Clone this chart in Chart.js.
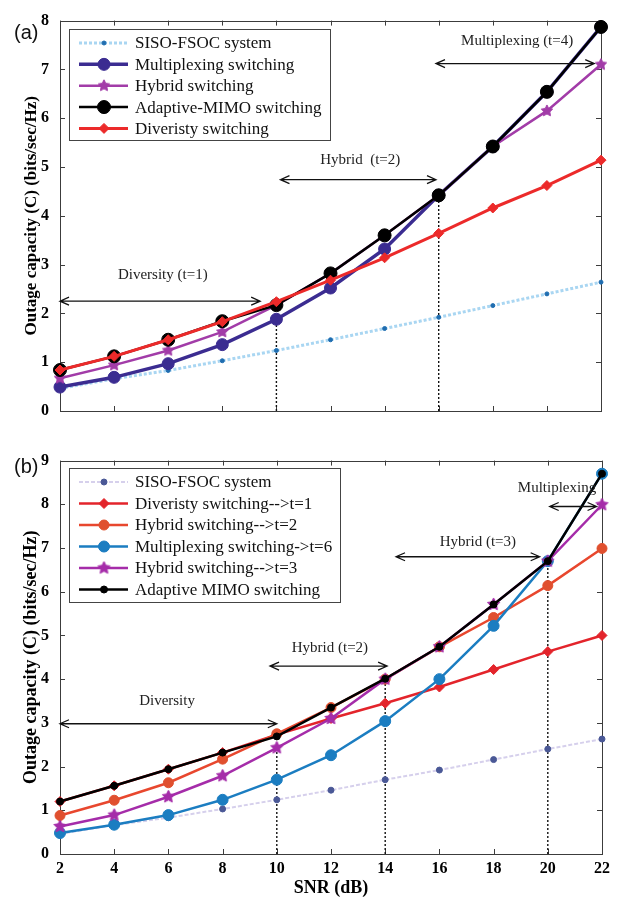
<!DOCTYPE html>
<html lang="en">
<head>
    <script src="https://cdn.jsdelivr.net/npm/chart.js/dist/chart.umd.min.js"></script>
    <style>
        body { margin: 0; background: #fff; }
        #wrap { position: relative; width: 626px; height: 903px; }
        .tag { position: absolute; left: 14px; font: 20px "Liberation Sans", sans-serif; color: #111; }
    </style>
</head>
<body>
<div id="wrap">
    <canvas id="chartA" width="626" height="440" style="position:absolute;left:0;top:0"></canvas>
    <canvas id="chartB" width="626" height="463" style="position:absolute;left:0;top:440px"></canvas>
    <div class="tag" style="top:21px">(a)</div>
    <div class="tag" style="top:455px">(b)</div>
</div>

<script>
    // SNR (dB), shared by both panels
    const snr = [2, 4, 6, 8, 10, 12, 14, 16, 18, 20, 22];

    // panel (a)
    const sisoA = [0.46, 0.66, 0.83, 1.03, 1.24, 1.46, 1.69, 1.92, 2.16, 2.40, 2.64];
    const muxA = [0.49, 0.69, 0.97, 1.36, 1.88, 2.52, 3.32, 4.42, 5.42, 6.54, 7.87];
    const hybridA = [0.67, 0.94, 1.24, 1.62, 2.17, 2.82, 3.60, 4.42, 5.42, 6.15, 7.10];
    const adaptiveA = [0.84, 1.12, 1.46, 1.84, 2.17, 2.82, 3.60, 4.42, 5.42, 6.54, 7.87];
    const diversityA = [0.84, 1.12, 1.46, 1.83, 2.24, 2.68, 3.14, 3.64, 4.16, 4.62, 5.14];

    // panel (b)
    const sisoB = [0.46, 0.66, 0.83, 1.03, 1.24, 1.46, 1.70, 1.92, 2.16, 2.40, 2.63];
    const div1B = [1.20, 1.56, 1.94, 2.32, 2.73, 3.10, 3.45, 3.82, 4.22, 4.63, 5.00];
    const hyb2B = [0.88, 1.23, 1.63, 2.17, 2.75, 3.35, 4.00, 4.74, 5.41, 6.14, 6.99];
    const mux6B = [0.48, 0.67, 0.89, 1.24, 1.70, 2.26, 3.04, 4.00, 5.22, 6.70, 8.70];
    const hyb3B = [0.63, 0.89, 1.31, 1.79, 2.43, 3.10, 4.00, 4.74, 5.71, 6.70, 7.99];
    const adaptiveB = [1.20, 1.56, 1.94, 2.32, 2.69, 3.35, 4.01, 4.74, 5.71, 6.70, 8.70];

    // annotations, in data units: arrows [xFrom, xTo, y], texts [text, x, y], dotted drops [x, yTop]
    const arrowsA = [[2, 9.4, 2.25], [10.15, 15.9, 4.74], [15.9, 21.75, 7.12]];
    const notesA = [['Diversity (t=1)', 5.8, 2.78], ['Hybrid  (t=2)', 13.1, 5.14], ['Multiplexing (t=4)', 18.9, 7.58]];
    const dropsA = [[10, 1.88], [16, 4.42]];

    const arrowsB = [[2, 10, 2.98], [9.75, 14.07, 4.3], [14.4, 19.7, 6.8], [20.07, 21.8, 7.95]];
    const notesB = [['Diversity', 5.95, 3.51], ['Hybrid (t=2)', 11.96, 4.72], ['Hybrid (t=3)', 17.42, 7.14], ['Multiplexing', 20.34, 8.37]];
    const dropsB = [[10, 2.43], [14, 4.0], [20, 6.7]];

    Chart.defaults.font.family = '"Liberation Serif", serif';
    Chart.defaults.color = '#000';

    function series(ys) {
        return ys.map(function(y, i) { return {x: snr[i], y: y}; });
    }

    function makeStar(color, r) {
        const c = document.createElement('canvas');
        const s = Math.ceil(r * 2 + 4);
        c.width = s;
        c.height = s;
        const g = c.getContext('2d');
        g.fillStyle = color;
        g.strokeStyle = color;
        g.beginPath();
        for (let k = 0; k < 10; k++) {
            const a = -Math.PI / 2 + k * Math.PI / 5;
            const rr = k % 2 ? r * 0.5 : r;
            g.lineTo(s / 2 + rr * Math.cos(a), s / 2 + rr * Math.sin(a));
        }
        g.closePath();
        g.fill();
        g.stroke();
        return c;
    }

    function line(label, ys, color, width, style, radius, pointColor, extra) {
        return Object.assign({
            label: label,
            data: series(ys),
            borderColor: color,
            borderWidth: width,
            pointStyle: style,
            pointRadius: radius,
            pointBackgroundColor: pointColor || color,
            pointBorderColor: pointColor || color,
            pointBorderWidth: 1,
            tension: 0,
            clip: false
        }, extra || {});
    }

    function drops(list) {
        return list.map(function(d) {
            return {
                data: [{x: d[0], y: 0}, {x: d[0], y: d[1]}],
                borderColor: '#111',
                borderWidth: 1.4,
                borderDash: [2, 2],
                pointRadius: 0,
                order: 100
            };
        });
    }

    // MATLAB draws later lines on top; in Chart.js a lower order is drawn on top
    function stack(sets) {
        sets.forEach(function(d, i) { d.order = sets.length - i; });
        return sets;
    }

    const framePlugin = {
        id: 'frame',
        beforeDatasetsDraw(chart) {
            const ctx = chart.ctx, a = chart.chartArea, xs = chart.scales.x, ys = chart.scales.y;
            ctx.save();
            ctx.strokeStyle = '#3c3c3c';
            ctx.lineWidth = 1;
            ctx.strokeRect(Math.round(a.left) + 0.5, Math.round(a.top) + 0.5, Math.round(a.right - a.left), Math.round(a.bottom - a.top));
            ctx.beginPath();
            xs.ticks.forEach(function(t) {
                const px = Math.round(xs.getPixelForValue(t.value)) + 0.5;
                ctx.moveTo(px, a.bottom); ctx.lineTo(px, a.bottom - 5);
                ctx.moveTo(px, a.top); ctx.lineTo(px, a.top + 5);
            });
            ys.ticks.forEach(function(t) {
                const py = Math.round(ys.getPixelForValue(t.value)) + 0.5;
                ctx.moveTo(a.left, py); ctx.lineTo(a.left + 5, py);
                ctx.moveTo(a.right, py); ctx.lineTo(a.right - 5, py);
            });
            ctx.stroke();
            ctx.restore();
        }
    };

    function notesPlugin(arrows, notes) {
        return {
            id: 'notes',
            afterDatasetsDraw(chart) {
                const ctx = chart.ctx, xs = chart.scales.x, ys = chart.scales.y;
                ctx.save();
                ctx.strokeStyle = '#111';
                ctx.lineWidth = 1.3;
                arrows.forEach(function(r) {
                    const x1 = xs.getPixelForValue(r[0]), x2 = xs.getPixelForValue(r[1]), y = ys.getPixelForValue(r[2]);
                    ctx.beginPath();
                    ctx.moveTo(x1, y); ctx.lineTo(x2, y);
                    ctx.moveTo(x1 + 9, y - 4); ctx.lineTo(x1, y); ctx.lineTo(x1 + 9, y + 4);
                    ctx.moveTo(x2 - 9, y - 4); ctx.lineTo(x2, y); ctx.lineTo(x2 - 9, y + 4);
                    ctx.stroke();
                });
                ctx.fillStyle = '#222';
                ctx.font = '15px "Liberation Serif"';
                ctx.textAlign = 'center';
                ctx.textBaseline = 'middle';
                notes.forEach(function(n) {
                    ctx.fillText(n[0], xs.getPixelForValue(n[1]), ys.getPixelForValue(n[2]));
                });
                ctx.restore();
            }
        };
    }

    function legendPlugin(topGap, row) {
        return {
            id: 'boxLegend',
            afterDatasetsDraw(chart) {
                const ctx = chart.ctx, a = chart.chartArea;
                const items = chart.data.datasets.filter(function(d) { return d.label; });
                ctx.save();
                ctx.font = '17px "Liberation Serif"';
                let maxW = 0;
                items.forEach(function(d) { maxW = Math.max(maxW, ctx.measureText(d.label).width); });
                const left = Math.round(a.left) + 9, top = Math.round(a.top) + topGap;
                const w = Math.round(66 + maxW + 8), h = Math.round(26 + (items.length - 1) * row);
                ctx.fillStyle = '#fff';
                ctx.fillRect(left, top, w, h);
                ctx.strokeStyle = '#444';
                ctx.lineWidth = 1;
                ctx.strokeRect(left + 0.5, top + 0.5, w, h);
                items.forEach(function(d, i) {
                    const y = top + 14 + i * row;
                    ctx.strokeStyle = d.borderColor;
                    ctx.lineWidth = d.borderWidth;
                    ctx.setLineDash(d.borderDash || []);
                    ctx.beginPath();
                    ctx.moveTo(left + 10, y);
                    ctx.lineTo(left + 59, y);
                    ctx.stroke();
                    ctx.setLineDash([]);
                    ctx.fillStyle = d.pointBackgroundColor;
                    ctx.strokeStyle = d.pointBorderColor;
                    ctx.lineWidth = 1;
                    Chart.helpers.drawPoint(ctx, {pointStyle: d.pointStyle, radius: d.pointRadius, rotation: 0, borderWidth: 1}, left + 35, y);
                    ctx.fillStyle = '#111';
                    ctx.textAlign = 'left';
                    ctx.textBaseline = 'middle';
                    ctx.fillText(d.label, left + 66, y + 1);
                });
                ctx.restore();
            }
        };
    }

    function axes(yMax, titleSize, showX) {
        return {
            x: {
                type: 'linear', min: 2, max: 22,
                grid: {display: false, drawTicks: false},
                border: {display: false},
                ticks: {display: showX, stepSize: 2, padding: 5, color: '#000', font: {size: 16, weight: 'bold'}},
                title: {display: showX, text: 'SNR (dB)', color: '#000', font: {size: 18, weight: 'bold'}, padding: {top: 0, bottom: 4}},
                afterFit: function(s) { s.height = showX ? 49 : 0; }
            },
            y: {
                min: 0, max: yMax,
                grid: {display: false, drawTicks: false},
                border: {display: false},
                ticks: {stepSize: 1, padding: 11, color: '#000', font: {size: 16, weight: 'bold'}},
                title: {display: true, text: 'Outage capacity (C) (bits/sec/Hz)', color: '#000', font: {size: titleSize, weight: 'bold'}, padding: {top: 21 - (titleSize - 17) * 0.6, bottom: 0}},
                afterFit: function(s) { s.width = 60; }
            }
        };
    }

    const hybridStarA = makeStar('#a23ca8', 6);
    const hybridStarB = makeStar('#a52ca9', 6.5);

    const setsA = stack([
        line('SISO-FSOC system', sisoA, '#a9d6f2', 3, 'circle', 2, '#1f6db0', {borderDash: [3, 2]}),
        line('Multiplexing switching', muxA, '#3b2c91', 3.5, 'circle', 6),
        line('Hybrid switching', hybridA, '#a23ca8', 2.5, hybridStarA, 6),
        line('Adaptive-MIMO switching', adaptiveA, '#000000', 2.5, 'circle', 6.5),
        line('Diveristy switching', diversityA, '#ec2a2a', 3, 'rectRot', 5)
    ]).concat(drops(dropsA));

    const setsB = stack([
        line('SISO-FSOC system', sisoB, '#d6d0ec', 2, 'circle', 3, '#4a5896', {borderDash: [4, 2]}),
        line('Diveristy switching-->t=1', div1B, '#e3242b', 2.5, 'rectRot', 5),
        line('Hybrid switching-->t=2', hyb2B, '#e8472e', 2.5, 'circle', 5, '#e0502f'),
        line('Multiplexing switching->t=6', mux6B, '#1b7dc1', 2.5, 'circle', 5.5),
        line('Hybrid switching-->t=3', hyb3B, '#a52ca9', 2.5, hybridStarB, 6.5),
        line('Adaptive MIMO switching', adaptiveB, '#000000', 2.5, 'circle', 3.5)
    ]).concat(drops(dropsB));

    const common = {
        responsive: false,
        animation: false,
        plugins: {legend: {display: false}, tooltip: {enabled: false}}
    };

    new Chart(document.getElementById('chartA'), {
        type: 'line',
        data: {datasets: setsA},
        options: Object.assign({}, common, {
            layout: {padding: {left: 0, top: 11, right: 25, bottom: 29}},
            scales: axes(8, 17, false)
        }),
        plugins: [framePlugin, notesPlugin(arrowsA, notesA), legendPlugin(8, 21.35)]
    });

    new Chart(document.getElementById('chartB'), {
        type: 'line',
        data: {datasets: setsB},
        options: Object.assign({}, common, {
            layout: {padding: {left: 0, top: 12, right: 24, bottom: 0}},
            scales: axes(9, 18, true)
        }),
        plugins: [framePlugin, notesPlugin(arrowsB, notesB), legendPlugin(7, 21.5)]
    });
</script>
</body>
</html>
